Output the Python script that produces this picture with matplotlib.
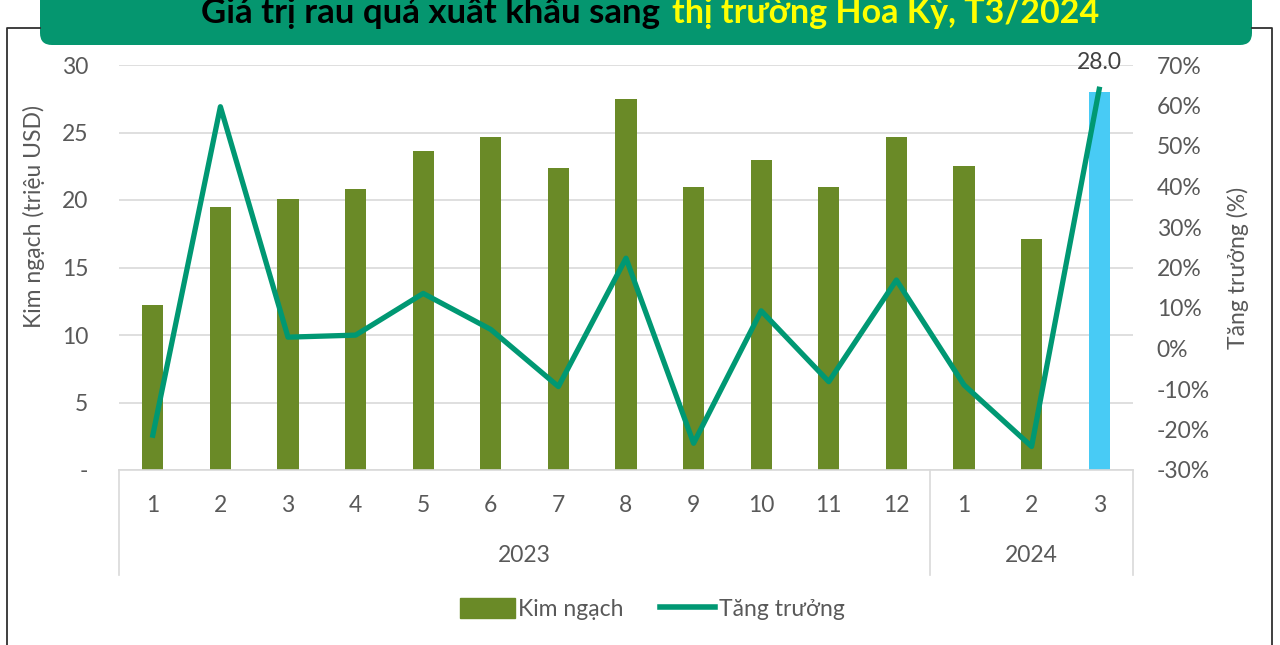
import matplotlib.pyplot as plt
import matplotlib.transforms as mtransforms
from matplotlib.patches import FancyBboxPatch, Patch
from matplotlib.lines import Line2D

plt.rcParams['font.family'] = ['Lato', 'DejaVu Sans']

# data
months = ["1", "2", "3", "4", "5", "6", "7", "8", "9", "10", "11", "12", "1", "2", "3"]
years = ["2023", "2024"]
year_len = [12, 3]
kim_ngach = [12.2, 19.5, 20.1, 20.8, 23.6, 24.7, 22.4, 27.45, 21.0, 23.0, 21.0, 24.7, 22.5, 17.1, 28.0]
tang_truong = [-21.4, 59.7, 2.8, 3.3, 13.6, 4.7, -9.4, 22.3, -23.4, 9.3, -8.2, 16.9, -9.0, -24.2, 64.0]

OLIVE = "#6A8A27"
BLUE = "#48CBF5"
LINE = "#009873"
BOX = "#05966F"
GRID = "#D9D9D9"
TXT = "#595959"
FS = 16.5

W, H = 1280, 645
fig = plt.figure(figsize=(W / 100, H / 100), dpi=100)
ax = fig.add_axes([119 / W, 1 - 470 / H, 1014 / W, 405 / H])
ax2 = ax.twinx()

x = list(range(len(months)))
colors = [OLIVE] * (len(months) - 1) + [BLUE]
ax.bar(x, kim_ngach, width=0.315, color=colors, zorder=2)
ax.set_xlim(-0.5, len(months) - 0.5)
ax.set_ylim(0, 30)
ax.set_yticks(range(0, 31, 5))
ax.set_yticklabels(["-" if v == 0 else str(v) for v in range(0, 31, 5)])
ax.grid(axis="y", color=GRID, lw=1.2, zorder=0)
ax.set_axisbelow(True)
ax.tick_params(axis="y", length=0, pad=22, labelsize=FS, labelcolor=TXT)
ax.set_xticks([])
for s in ["top", "right", "left"]:
    ax.spines[s].set_visible(False)
ax.spines["bottom"].set_color(GRID)
ax.spines["bottom"].set_linewidth(1.2)
ax.set_ylabel("Kim ngạch (triệu USD)", fontsize=FS, color=TXT)
ax.yaxis.set_label_coords(-74 / 1014, (470 - 217) / 405)

# label for last bar
ax.text(x[-1], kim_ngach[-1] + 1.4, f"{kim_ngach[-1]:.1f}", ha="center", va="bottom",
        fontsize=FS, color="#404040")

ax2.plot(x, tang_truong, color=LINE, lw=3.8, solid_joinstyle="round", zorder=3)
ax2.set_ylim(-30, 70)
ax2.set_yticks(range(-30, 71, 10))
ax2.set_yticklabels([f"{v}%" for v in range(-30, 71, 10)])
ax2.tick_params(axis="y", length=0, pad=17, labelsize=FS, labelcolor=TXT)
for s in ["top", "right", "left", "bottom"]:
    ax2.spines[s].set_visible(False)
ax2.set_ylabel("Tăng trưởng (%)", fontsize=FS, color=TXT, rotation=90)
ax2.yaxis.set_label_coords(1 + 94 / 1014, (470 - 268) / 405)

# multi-level category axis
trans = mtransforms.blended_transform_factory(ax.transData, ax.transAxes)
for i, m in enumerate(months):
    ax.text(i, -35 / 405, m, transform=trans, ha="center", va="center", fontsize=FS, color=TXT)
start = -0.5
bounds = [start]
for y, n in zip(years, year_len):
    ax.text(start + n / 2, -86 / 405, y, transform=trans, ha="center", va="center",
            fontsize=FS, color=TXT)
    start += n
    bounds.append(start)
for b in bounds:
    ax.plot([b, b], [0, -105 / 405], transform=trans, color=GRID, lw=1.2, clip_on=False)

# legend
handles = [Patch(color=OLIVE, label="Kim ngạch"),
           Line2D([0], [0], color=LINE, lw=4, label="Tăng trưởng")]
fig.legend(handles=handles, loc="center", bbox_to_anchor=(652 / W, 1 - 609 / H), ncol=2,
           frameon=False, fontsize=FS, handlelength=2.4, handleheight=1.0, handletextpad=0.15,
           columnspacing=1.6, labelcolor=TXT)

# outer frame and title box (pixel coordinates)
ident = mtransforms.IdentityTransform()
fig.add_artist(Line2D([7, 7, 40], [0, H - 28, H - 28], transform=ident, color="#303030", lw=1.3))
fig.add_artist(Line2D([1252, 1272, 1272], [H - 28, H - 28, 0], transform=ident, color="#303030", lw=1.3))
box = FancyBboxPatch((40 + 12, H - 45 + 12), 1212 - 24, 80, boxstyle="round,pad=12",
                     transform=ident, facecolor=BOX, edgecolor="none")
fig.add_artist(box)
fig.text(660 / W, 1 - 23 / H, "Giá trị rau quả xuất khẩu sang", ha="right", va="baseline",
         fontsize=25, fontweight="bold", color="black")
fig.text(672 / W, 1 - 23 / H, "thị trường Hoa Kỳ, T3/2024", ha="left", va="baseline",
         fontsize=24.5, fontweight="bold", color="#FFFF00")

fig.savefig("out.png", dpi=100)
